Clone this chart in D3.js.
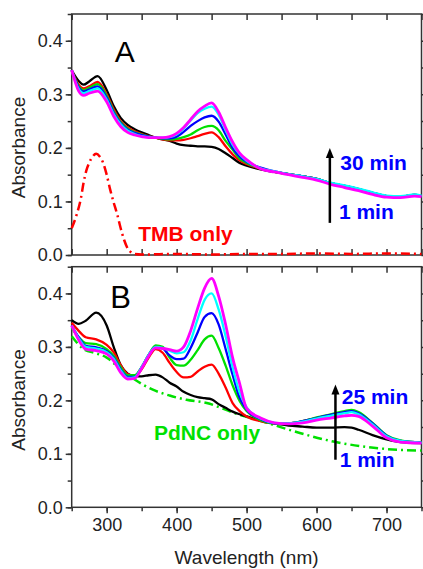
<!DOCTYPE html>
<html>
<head>
<meta charset="utf-8">
<script src="https://cdn.jsdelivr.net/npm/d3@7"></script>
<style>
  body { margin: 0; background: #fff; }
  svg { display: block; font-family: "Liberation Sans", Arial, sans-serif; }
  .axis path, .axis line { stroke: #333; stroke-width: 1.5; }
  .axis text { font-size: 18px; fill: #222; }
</style>
</head>
<body>
<div id="chart"></div>
<script>
// wavelengths (nm) and absorbance
const wavelengthsA = [250,260,267,275,287,300,310,320,330,340,350,360,370,380,390,400,410,420,430,440,450,460,470,480,490,500,520,540,560,580,600,620,640,660,680,700,720,740,750];
const blackA   = [.345,.325,.318,.324,.334,.308,.278,.256,.243,.235,.229,.224,.219,.216,.213,.208,.205,.204,.203,.203,.202,.198,.190,.181,.172,.167,.160,.155,.151,.147,.142,.134,.129,.123,.116,.110,.109,.112,.110];
const redA     = [.345,.318,.311,.315,.323,.300,.272,.250,.238,.231,.226,.222,.219,.216,.214,.214,.215,.218,.222,.226,.229,.220,.203,.188,.177,.170,.161,.155,.151,.147,.142,.134,.129,.123,.116,.110,.109,.112,.110];
const greenA   = [.345,.315,.308,.312,.319,.297,.269,.248,.236,.229,.225,.221,.219,.217,.216,.217,.220,.225,.233,.239,.241,.233,.213,.197,.180,.172,.162,.155,.151,.147,.142,.134,.129,.123,.116,.110,.109,.112,.110];
const blueA    = [.345,.313,.305,.309,.315,.294,.266,.246,.234,.228,.224,.221,.219,.218,.218,.221,.230,.241,.250,.257,.260,.249,.225,.200,.184,.174,.163,.156,.151,.147,.142,.134,.129,.123,.116,.110,.109,.112,.110];
const cyanA    = [.345,.310,.302,.306,.311,.290,.263,.244,.232,.226,.222,.220,.219,.219,.220,.225,.236,.251,.265,.273,.277,.262,.233,.206,.188,.176,.162,.156,.151,.147,.142,.135,.130,.124,.117,.111,.110,.113,.111];
const magentaA = [.345,.306,.298,.302,.306,.286,.259,.240,.229,.224,.221,.219,.219,.219,.221,.227,.238,.253,.268,.278,.284,.267,.238,.211,.190,.178,.161,.155,.150,.145,.140,.132,.126,.120,.113,.108,.107,.110,.109];

const wavelengthsTMB = [250,257,263,267,271,275,280,285,290,295,300,305,310,315,320,325,330,335,340,350,400,450,500,550,600,650,700,750];
const tmbOnly = [.050,.075,.105,.135,.158,.172,.184,.189,.184,.172,.150,.122,.098,.076,.050,.028,.012,.005,.002,.001,.002,.001,.002,.002,.003,.002,.003,.002];

const wavelengthsB = [250,260,270,285,300,310,320,330,340,350,360,370,380,390,400,410,420,430,440,450,460,470,480,490,500,520,540,560,580,600,620,640,650,660,680,700,720,750];
const blackB   = [.350,.343,.349,.364,.340,.300,.266,.250,.245,.245,.247,.248,.243,.233,.226,.216,.210,.206,.204,.202,.193,.186,.179,.174,.170,.162,.157,.153,.151,.149,.149,.150,.149,.145,.135,.127,.122,.120];
const redB     = [.345,.330,.318,.314,.304,.290,.266,.249,.246,.258,.280,.296,.289,.270,.253,.243,.244,.254,.263,.267,.250,.224,.195,.180,.170,.161,.157,.157,.161,.167,.172,.177,.179,.175,.155,.133,.124,.121];
const greenB   = [.335,.318,.307,.305,.296,.283,.262,.247,.247,.262,.285,.303,.300,.280,.266,.265,.276,.294,.314,.321,.298,.265,.228,.199,.180,.163,.157,.157,.161,.168,.174,.180,.182,.178,.158,.135,.125,.121];
const blueB    = [.340,.318,.302,.299,.292,.280,.258,.244,.244,.262,.285,.300,.297,.284,.277,.278,.298,.327,.356,.363,.342,.296,.248,.205,.183,.165,.157,.157,.161,.167,.173,.178,.180,.176,.157,.134,.124,.121];
const cyanB    = [.340,.316,.300,.297,.290,.278,.256,.242,.243,.262,.285,.300,.298,.293,.288,.290,.312,.352,.388,.400,.370,.320,.262,.215,.187,.166,.158,.157,.160,.166,.171,.176,.178,.174,.155,.133,.124,.121];
const magentaB = [.340,.313,.296,.293,.287,.274,.252,.240,.241,.260,.283,.298,.297,.295,.292,.300,.330,.372,.410,.428,.395,.342,.280,.232,.185,.167,.158,.156,.158,.163,.167,.171,.172,.170,.152,.130,.122,.120];

const wavelengthsPdNC = [250,267,285,300,320,340,366,390,414,443,481,529,576,624,671,700,750];
const pdncOnly = [.320,.296,.288,.280,.258,.239,.220,.209,.201,.195,.177,.158,.139,.123,.113,.109,.106];

const xTicks = [300, 400, 500, 600, 700];
const yTicks = [0.0, 0.1, 0.2, 0.3, 0.4];

const curveColors = ["#000000", "#ff0000", "#00e000", "#0000ff", "#00ffff", "#ff00ff"];

const W = 423, H = 569;
const svg = d3.select("#chart").append("svg").attr("width", W).attr("height", H);

const x = d3.scaleLinear().domain([250, 750]).range([71.7, 421.5]);
const yA = d3.scaleLinear().domain([0, 0.45]).range([255, 14]);
const yB = d3.scaleLinear().domain([0, 0.45]).range([507.3, 266.7]);

const minorX = d3.range(250, 751, 50);
const minorY = d3.range(0, 0.451, 0.05);

function drawFrame(y, showXLabels) {
    const top = y.range()[1], bottom = y.range()[0];
    // left axis, ticks outward
    svg.append("g").attr("class", "axis")
        .attr("transform", "translate(" + x.range()[0] + ",0)")
        .call(d3.axisLeft(y).tickValues(minorY).tickSize(4).tickFormat(""))
        .call(g => g.select(".domain").remove());
    svg.append("g").attr("class", "axis")
        .attr("transform", "translate(" + x.range()[0] + ",0)")
        .call(d3.axisLeft(y).tickValues(yTicks).tickSize(6).tickPadding(3).tickFormat(d3.format(".1f")))
        .call(g => g.select(".domain").remove());
    // right axis, ticks inward
    svg.append("g").attr("class", "axis")
        .attr("transform", "translate(" + x.range()[1] + ",0)")
        .call(d3.axisLeft(y).tickValues(minorY).tickSize(-6).tickFormat(""))
        .call(g => g.select(".domain").remove());
    // top axis, ticks inward
    svg.append("g").attr("class", "axis")
        .attr("transform", "translate(0," + top + ")")
        .call(d3.axisBottom(x).tickValues(minorX).tickSize(6).tickFormat(""))
        .call(g => g.select(".domain").remove());
    if (showXLabels) {
        svg.append("g").attr("class", "axis")
            .attr("transform", "translate(0," + bottom + ")")
            .call(d3.axisBottom(x).tickValues(minorX).tickSize(4).tickFormat(""))
            .call(g => g.select(".domain").remove());
        svg.append("g").attr("class", "axis")
            .attr("transform", "translate(0," + bottom + ")")
            .call(d3.axisBottom(x).tickValues(xTicks).tickSize(6).tickPadding(5))
            .call(g => g.select(".domain").remove());
    } else {
        svg.append("g").attr("class", "axis")
            .attr("transform", "translate(0," + bottom + ")")
            .call(d3.axisTop(x).tickValues(minorX).tickSize(6).tickFormat(""))
            .call(g => g.select(".domain").remove());
    }
    svg.append("rect")
        .attr("x", x.range()[0]).attr("y", top)
        .attr("width", x.range()[1] - x.range()[0]).attr("height", bottom - top)
        .attr("fill", "none").attr("stroke", "#333").attr("stroke-width", 1.5);
    // y title
    svg.append("text")
        .attr("transform", "translate(25," + ((top + bottom) / 2 + 13) + ") rotate(-90)")
        .attr("text-anchor", "middle")
        .attr("font-size", "19px").attr("fill", "#222")
        .text("Absorbance");
}

function drawCurve(y, wl, vals, color, width, dash) {
    const line = d3.line()
        .x((d, i) => x(wl[i]))
        .y(d => y(d))
        .curve(d3.curveMonotoneX);
    svg.append("path")
        .datum(vals)
        .attr("d", line)
        .attr("fill", "none")
        .attr("stroke", color)
        .attr("stroke-width", width)
        .attr("stroke-linejoin", "round")
        .attr("stroke-dasharray", dash || null);
}

function drawArrow(y, wl, from, to) {
    svg.append("line")
        .attr("x1", x(wl)).attr("x2", x(wl))
        .attr("y1", y(from)).attr("y2", y(to) + 8)
        .attr("stroke", "#000").attr("stroke-width", 2.5);
    const tx = x(wl), ty = y(to);
    svg.append("path")
        .attr("d", "M" + tx + "," + ty + "L" + (tx - 4) + "," + (ty + 10) + "L" + (tx + 4) + "," + (ty + 10) + "Z")
        .attr("fill", "#000");
}

function label(txt, px, py, size, color, bold, anchor) {
    svg.append("text")
        .attr("x", px).attr("y", py)
        .attr("font-size", size + "px")
        .attr("font-weight", bold ? "bold" : "normal")
        .attr("fill", color)
        .attr("text-anchor", anchor || "start")
        .text(txt);
}

// ---- panel A
drawFrame(yA, false);
const seriesA = [blackA, redA, greenA, blueA, cyanA, magentaA];
seriesA.forEach((s, i) => drawCurve(yA, wavelengthsA, s, curveColors[i], i === 5 ? 2.8 : 2.3));
drawCurve(yA, wavelengthsTMB, tmbOnly, "#ff0000", 2.5, "9,4,2,4");
drawArrow(yA, 619, 0.06, 0.2);
label("A", x(326), yA(0.36), 30, "#000", false, "middle");
label("TMB only", x(345), yA(0.027), 21, "#ff0000", true);
label("30 min", x(634), yA(0.158), 21, "#0000ff", true);
label("1 min", x(632), yA(0.067), 21, "#0000ff", true);

// ---- panel B
drawFrame(yB, true);
drawCurve(yB, wavelengthsPdNC, pdncOnly, "#00e000", 2.5, "9,4,2,4");
const seriesB = [blackB, redB, greenB, blueB, cyanB, magentaB];
seriesB.forEach((s, i) => drawCurve(yB, wavelengthsB, s, curveColors[i], i === 5 ? 2.8 : 2.3));
drawArrow(yB, 627, 0.089, 0.2295);
label("B", x(305), yB(0.372), 31, "#000", false);
label("PdNC only", x(367.6), yB(0.126), 21, "#00e000", true);
label("25 min", x(636), yB(0.194), 21, "#0000ff", true);
label("1 min", x(633), yB(0.075), 21, "#0000ff", true);

// x title
label("Wavelength (nm)", (x.range()[0] + x.range()[1]) / 2, 564, 19, "#222", false, "middle");
</script>
</body>
</html>
